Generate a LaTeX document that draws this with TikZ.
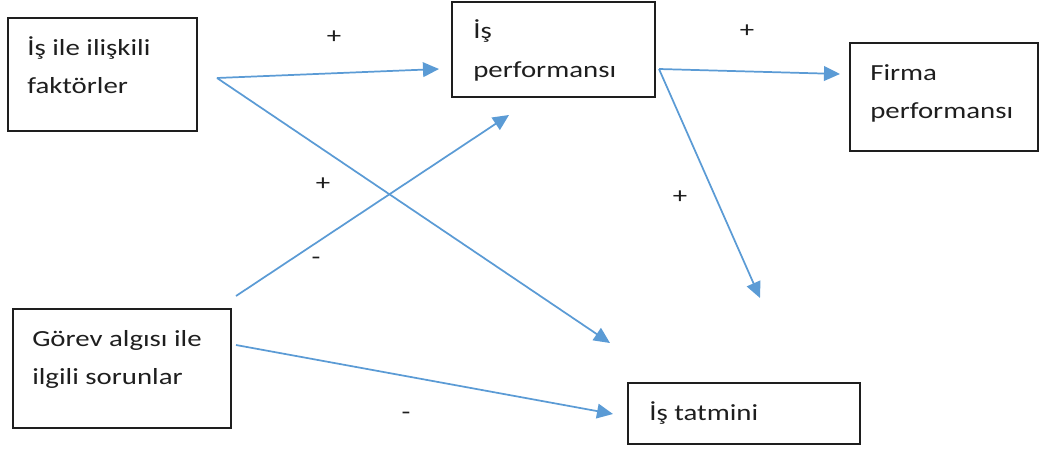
\documentclass[tikz,border=0pt]{standalone}
\usepackage{fontspec}
\setmainfont{Carlito}[FakeStretch=1.25]
\usetikzlibrary{arrows.meta,fit}
\definecolor{linkblue}{HTML}{5B9BD5}
\definecolor{inkgray}{HTML}{1E1E1E}
\begin{document}
\begin{tikzpicture}[x=0.75pt,y=-0.75pt,
  box/.style={draw=inkgray,line width=1.1pt,inner sep=0pt},
  txt/.style={anchor=base west,inner sep=0pt,text=inkgray,
              font=\fontsize{17.3}{20}\selectfont},
  sign/.style={anchor=base,inner sep=0pt,text=inkgray,
               font=\fontsize{17.3}{20}\selectfont},
  link/.style={draw=linkblue,line width=1.3pt,
               -{Triangle[length=12pt,width=11pt]}}]
\useasboundingbox (0,0) rectangle (1043,450);

% boxes
\node[box,fit={(8,18) (197,131)}]    (factors) {};
\node[box,fit={(452,2) (655,97)}]    (jobperf) {};
\node[box,fit={(850,43) (1038,151)}] (firmperf) {};
\node[box,fit={(13,309) (231,428)}]  (taskprob) {};
\node[box,fit={(628,383) (860,444)}] (satisf) {};

% box texts
\node[txt] (factors1)  at (27,55)  {İş ile ilişkili};
\node[txt] (factors2)  at (27,93)  {faktörler};
\node[txt] (jobperf1)  at (473,38) {İş};
\node[txt] (jobperf2)  at (473,77) {performansı};
\node[txt] (firmperf1) at (870,80) {Firma};
\node[txt] (firmperf2) at (870,118) {performansı};
\node[txt] (taskprob1) at (32,346) {Görev algısı ile};
\node[txt] (taskprob2) at (32,384) {ilgili sorunlar};
\node[txt] (satisf1)   at (649,420) {İş tatmini};

% connector end points
\coordinate (fOut)  at (217,78);
\coordinate (pIn)   at (439,69);
\coordinate (pIn2)  at (509,115);
\coordinate (pOut)  at (659,69);
\coordinate (fpIn)  at (840,74);
\coordinate (tOut1) at (236,296);
\coordinate (tOut2) at (236,345);
\coordinate (sIn1)  at (610,343);
\coordinate (sIn2)  at (613,414);
\coordinate (sIn3)  at (760,298);

% connectors
\draw[link] (fOut)  -- (pIn);
\draw[link] (fOut)  -- (sIn1);
\draw[link] (tOut1) -- (pIn2);
\draw[link] (tOut2) -- (sIn2);
\draw[link] (pOut)  -- (fpIn);
\draw[link] (pOut)  -- (sIn3);

% signs
\node[sign] (sgn1) at (334,43)  {+};
\node[sign] (sgn2) at (747,37)  {+};
\node[sign] (sgn3) at (323,190) {+};
\node[sign] (sgn4) at (680,203) {+};
\node[sign] (sgn5) at (316,264) {-};
\node[sign] (sgn6) at (406,419) {-};
\end{tikzpicture}
\end{document}
